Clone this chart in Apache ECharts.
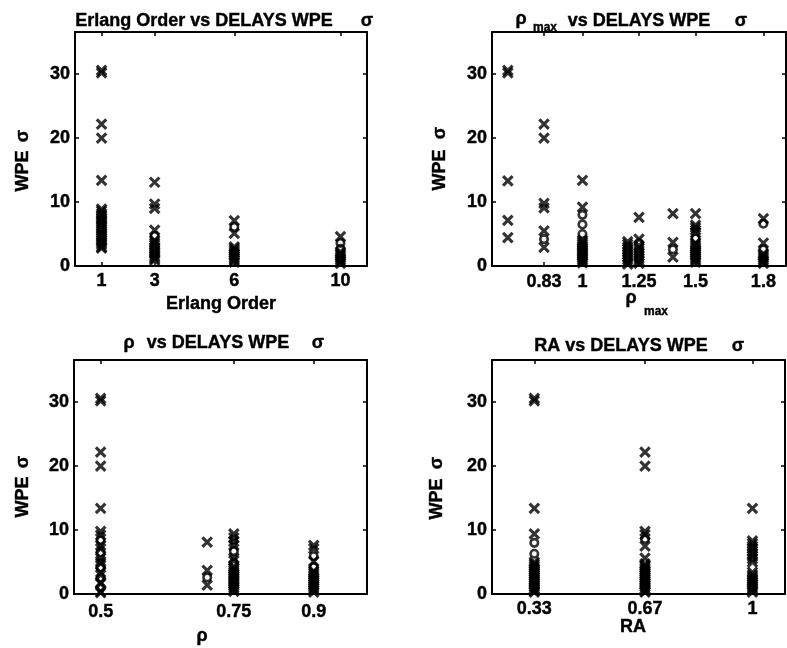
<!DOCTYPE html>
<html>
<head>
<meta charset="utf-8">
<script src="https://cdn.jsdelivr.net/npm/echarts@6/dist/echarts.min.js"></script>
<style>
html,body{margin:0;padding:0;background:#fff;}
#chart{width:787px;height:648px;}
</style>
</head>
<body>
<div id="chart"></div>
<script>
// ---------- DATA ----------
const yTicks = [0, 10, 20, 30];
const yTickLabels = ['0', '10', '20', '30'];

// Panel 1: Erlang Order
const erlangCols = [1, 3, 6, 10];
const erlangTicks = [1, 3, 6, 10];
const erlangTickLabels = ['1', '3', '6', '10'];
const erlangCrossY = [
  [30.2, 30.6, 22.2, 20.0, 13.4, 8.9, 8.6, 8.2, 7.9, 7.5, 7.2, 6.9, 6.5, 6.2, 5.8, 5.5, 5.1, 4.8, 4.4, 4.1, 3.7, 3.4, 3.0, 2.8],
  [13.1, 9.7, 9.0, 5.6, 4.0, 3.6, 3.3, 2.9, 2.6, 2.2, 1.9, 1.5, 1.2, 0.9],
  [7.1, 5.1, 3.0, 2.7, 2.4, 2.1, 1.8, 1.5, 1.2, 0.9, 0.6],
  [4.6, 2.2, 1.9, 1.6, 1.3, 1.0, 0.7, 0.4]
];
const erlangCircleY = [
  [],
  [4.7],
  [6.1],
  [3.6, 2.7]
];

// Panel 2: rho max
const rhoMaxCols = [0.67, 0.83, 1.0, 1.2, 1.25, 1.4, 1.5, 1.8];
const rhoMaxTicks = [0.83, 1, 1.25, 1.5, 1.8];
const rhoMaxTickLabels = ['0.83', '1', '1.25', '1.5', '1.8'];
const rhoMaxCrossY = [
  [30.2, 30.6, 13.3, 7.15, 4.45],
  [22.2, 20.0, 9.8, 9.1, 5.5, 2.9],
  [13.4, 9.2, 4.0, 3.7, 3.4, 3.1, 2.8, 2.5, 2.2, 1.9, 1.6, 1.3, 1.0, 0.7, 0.5],
  [3.8, 3.4, 3.0, 2.6, 2.2, 1.8, 1.4, 1.0, 0.6, 0.3],
  [7.6, 4.2, 3.2, 2.8, 2.4, 2.0, 1.6, 1.2, 0.8, 0.4],
  [8.2, 3.7, 1.4],
  [8.2, 6.4, 6.0, 5.6, 5.2, 3.6, 3.3, 3.0, 2.7, 2.4, 2.1, 1.8, 1.5, 1.2, 0.9, 0.6],
  [7.4, 3.6, 1.9, 1.6, 1.3, 1.0, 0.7, 0.4]
];
const rhoMaxCircleY = [
  [],
  [4.2],
  [8.0, 6.5, 5.0],
  [],
  [3.6],
  [2.6],
  [4.3],
  [6.6, 2.6]
];

// Panel 3: rho
const rhoCols = [0.5, 0.7, 0.75, 0.9];
const rhoTicks = [0.5, 0.75, 0.9];
const rhoTickLabels = ['0.5', '0.75', '0.9'];
const rhoCrossY = [
  [30.2, 30.6, 22.2, 20.0, 13.4, 9.8, 9.2, 7.6, 7.1, 5.6, 5.1, 4.8, 3.4, 3.0, 1.8, 1.6, 0.4, 0.2],
  [8.1, 3.7, 1.4],
  [9.4, 8.8, 8.2, 7.6, 5.6, 5.2, 4.3, 4.0, 3.7, 3.4, 3.1, 2.8, 2.5, 2.2, 1.9, 1.6, 1.3, 1.0, 0.7, 0.4],
  [7.6, 7.1, 5.1, 3.6, 3.3, 3.0, 2.7, 2.4, 2.1, 1.8, 1.5, 1.2, 0.9, 0.6, 0.3]
];
const rhoCircleY = [
  [8.4, 6.5, 4.1, 2.5, 1.0],
  [2.6],
  [6.7, 4.8],
  [5.9, 4.2]
];

// Panel 4: RA
const raCols = [0.33, 0.67, 1.0];
const raTicks = [0.33, 0.67, 1];
const raTickLabels = ['0.33', '0.67', '1'];
const raCrossY = [
  [30.2, 30.6, 13.4, 9.4, 5.0, 4.7, 4.4, 4.1, 3.8, 3.5, 3.2, 2.9, 2.6, 2.3, 2.0, 1.7, 1.4, 1.1, 0.8, 0.5, 0.3],
  [22.2, 20.0, 9.8, 9.3, 7.5, 5.6, 4.7, 4.4, 4.1, 3.8, 3.5, 3.2, 2.9, 2.6, 2.3, 2.0, 1.7, 1.4, 1.1, 0.8, 0.5, 0.3],
  [13.4, 8.3, 7.9, 7.5, 7.1, 6.7, 6.3, 5.9, 5.5, 5.0, 3.4, 3.0, 2.7, 2.4, 2.1, 1.8, 1.5, 1.2, 0.9, 0.6, 0.3]
];
const raCircleY = [
  [8.0, 6.3],
  [8.6],
  []
];

// ---------- LAYOUT / STYLE ----------
const FONT = '"Liberation Sans", Arial, Helvetica, sans-serif';
const FS = 18;
const Y_MAX = 36.6;

const panels = [
  {grid: {left: 75, top: 32, width: 292, height: 234}, xmin: 0, xmax: 11, cols: erlangCols, cross: erlangCrossY, circ: erlangCircleY, ticks: erlangTicks, labels: erlangTickLabels, margin: 6},
  {grid: {left: 492, top: 32, width: 294, height: 234}, xmin: 0.6, xmax: 1.9, cols: rhoMaxCols, cross: rhoMaxCrossY, circ: rhoMaxCircleY, ticks: rhoMaxTicks, labels: rhoMaxTickLabels, margin: 7},
  {grid: {left: 74, top: 360, width: 293, height: 234}, xmin: 0.45, xmax: 1.0, cols: rhoCols, cross: rhoCrossY, circ: rhoCircleY, ticks: rhoTicks, labels: rhoTickLabels, margin: 9},
  {grid: {left: 492, top: 360, width: 293, height: 234}, xmin: 0.2, xmax: 1.1, cols: raCols, cross: raCrossY, circ: raCircleY, ticks: raTicks, labels: raTickLabels, margin: 6}
];

function pts(cols, ys) {
  const out = [];
  cols.forEach((c, i) => ys[i].forEach(v => out.push([c, v])));
  return out;
}
function labelFor(ticks, labels) {
  return function (v) {
    for (let i = 0; i < ticks.length; i++) if (Math.abs(ticks[i] - v) < 1e-9) return labels[i];
    return '';
  };
}

const lineStyle = {color: '#000', width: 2};
const labelStyle = {color: '#000', fontFamily: FONT, fontWeight: 'bold', fontSize: FS,
  textBorderColor: '#000', textBorderWidth: 0.4};
const grids = [], xAxes = [], yAxes = [], series = [];
panels.forEach((p, i) => {
  grids.push(p.grid);
  const tickStyle = {show: true, inside: true, length: 4, lineStyle: {color: '#000', width: 1.5}};
  xAxes.push({
    type: 'value', gridIndex: i, min: p.xmin, max: p.xmax, position: 'bottom',
    axisLine: {show: true, onZero: false, lineStyle},
    axisTick: Object.assign({customValues: p.ticks}, tickStyle),
    axisLabel: Object.assign({customValues: p.ticks, formatter: labelFor(p.ticks, p.labels), margin: p.margin}, labelStyle),
    splitLine: {show: false}
  });
  xAxes.push({
    type: 'value', gridIndex: i, min: p.xmin, max: p.xmax, position: 'top',
    axisLine: {show: true, onZero: false, lineStyle},
    axisTick: Object.assign({customValues: p.ticks}, tickStyle),
    axisLabel: {show: false}, splitLine: {show: false}
  });
  yAxes.push({
    type: 'value', gridIndex: i, min: 0, max: Y_MAX, position: 'left',
    axisLine: {show: true, onZero: false, lineStyle},
    axisTick: Object.assign({customValues: yTicks}, tickStyle),
    axisLabel: Object.assign({customValues: yTicks, formatter: labelFor(yTicks, yTickLabels), margin: 5}, labelStyle),
    splitLine: {show: false}
  });
  yAxes.push({
    type: 'value', gridIndex: i, min: 0, max: Y_MAX, position: 'right',
    axisLine: {show: true, onZero: false, lineStyle},
    axisTick: Object.assign({customValues: yTicks}, tickStyle),
    axisLabel: {show: false}, splitLine: {show: false}
  });
  series.push({
    type: 'scatter', xAxisIndex: 2 * i, yAxisIndex: 2 * i,
    data: pts(p.cols, p.cross),
    symbol: 'path://M0,0L10,10M0,10L10,0', symbolSize: 9.5,
    itemStyle: {color: 'rgba(0,0,0,0)', borderColor: '#000', borderWidth: 3.1},
    silent: true, emphasis: {disabled: true}
  });
  series.push({
    type: 'scatter', xAxisIndex: 2 * i, yAxisIndex: 2 * i,
    data: pts(p.cols, p.circ),
    symbol: 'circle', symbolSize: 7.5,
    itemStyle: {color: 'rgba(0,0,0,0)', borderColor: '#000', borderWidth: 2.6},
    silent: true, emphasis: {disabled: true}
  });
});

function T(x, y, text, size, rot) {
  return {type: 'text', x: x, y: y, rotation: rot || 0, silent: true,
    style: {text: text, fill: '#000', font: 'bold ' + (size || FS) + 'px ' + FONT,
      stroke: '#000', lineWidth: 0.4,
      textAlign: 'center', textVerticalAlign: 'middle', align: 'center', verticalAlign: 'middle'}};
}
const R = Math.PI / 2;
const graphics = [
  // Panel 1
  T(204, 21, 'Erlang Order vs DELAYS WPE'), T(367, 21, 'σ'),
  T(221, 304, 'Erlang Order'),
  T(23, 171, 'WPE', FS, R), T(23, 136, 'σ', FS, R),
  // Panel 2
  T(521, 19, 'ρ'), T(545, 28, 'max', 12), T(639, 21, 'vs DELAYS WPE'), T(741, 21, 'σ'),
  T(631, 298, 'ρ'), T(656, 312, 'max', 12),
  T(440, 170, 'WPE', FS, R), T(440, 133, 'σ', FS, R),
  // Panel 3
  T(129, 343, 'ρ'), T(218, 343, 'vs DELAYS WPE'), T(318, 343, 'σ'),
  T(202, 636, 'ρ'),
  T(23, 497, 'WPE', FS, R), T(23, 462, 'σ', FS, R),
  // Panel 4
  T(621, 346, 'RA vs DELAYS WPE'), T(738, 346, 'σ'),
  T(633, 627, 'RA'),
  T(437, 499, 'WPE', FS, R), T(437, 463, 'σ', FS, R)
];

const chart = echarts.init(document.getElementById('chart'), null, {renderer: 'canvas'});
chart.setOption({
  animation: false,
  backgroundColor: '#fff',
  grid: grids,
  xAxis: xAxes,
  yAxis: yAxes,
  series: series,
  graphic: graphics
});
</script>
</body>
</html>
